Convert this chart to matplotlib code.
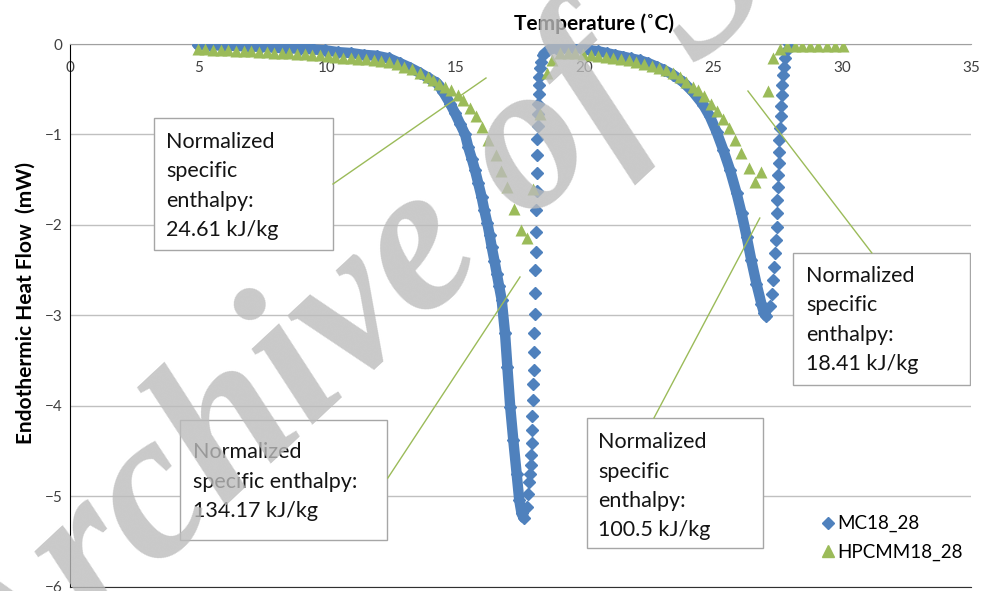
import matplotlib
matplotlib.use("Agg")
import matplotlib.pyplot as plt
from matplotlib.patches import Rectangle
from matplotlib.lines import Line2D

# ============================================================
# 1. DATA
# ============================================================

# MC18_28 - first melting peak (dense part)
mc_x_melt1 = [4.98, 5.45, 5.95, 6.45, 6.95, 7.45, 7.95, 8.45, 8.95, 9.45, 9.93, 10.43,
              10.93, 11.42, 11.92, 12.42, 12.82, 13.21, 13.61, 13.96, 14.26, 14.51, 14.78,
              14.96, 15.16, 15.36, 15.48, 15.62, 15.74, 15.87, 16.0, 16.1, 16.22, 16.31,
              16.39, 16.5, 16.59, 16.68, 16.78, 16.91, 17.0, 17.11, 17.23, 17.36, 17.46,
              17.55, 17.64]
mc_y_melt1 = [-0.01, -0.01, -0.02, -0.02, -0.03, -0.03, -0.04, -0.05, -0.05, -0.06, -0.07, -0.09,
              -0.10, -0.12, -0.13, -0.16, -0.21, -0.26, -0.32, -0.38, -0.43, -0.53, -0.66,
              -0.76, -0.88, -1.0, -1.14, -1.27, -1.39, -1.54, -1.69, -1.83, -1.98, -2.11,
              -2.24, -2.4, -2.54, -2.68, -2.83, -3.2, -3.57, -4.01, -4.38, -4.75, -5.04,
              -5.19, -5.24]

# MC18_28 - return after first peak (sparse points)
mc_x_ret1 = [17.77, 17.81, 17.85, 17.88, 17.9, 17.91, 17.94, 17.95, 17.97, 17.98, 18.01, 18.02,
             18.03, 18.04, 18.07, 18.07, 18.07, 18.1, 18.1, 18.11, 18.14, 18.14, 18.14, 18.16,
             18.18, 18.18, 18.2, 18.23, 18.23, 18.24, 18.27, 18.29]
mc_y_ret1 = [-5.12, -4.97, -4.84, -4.75, -4.65, -4.54, -4.41, -4.27, -4.11, -3.94, -3.76, -3.6,
             -3.4, -3.19, -2.99, -2.75, -2.5, -2.30, -2.08, -1.84, -1.63, -1.43, -1.23, -1.05,
             -0.91, -0.77, -0.66, -0.55, -0.45, -0.36, -0.27, -0.2]

# MC18_28 - second melting peak (dense part)
mc_x_melt2 = [18.39, 18.59, 18.88, 19.18, 19.55, 19.88, 20.21, 20.52, 20.85, 21.17, 21.5,
              21.81, 22.14, 22.46, 22.79, 23.1, 23.43, 23.82, 24.21, 24.6, 24.86, 25.12,
              25.38, 25.64, 25.9, 26.09, 26.29, 26.47, 26.67, 26.86, 26.96, 27.06]
mc_y_melt2 = [-0.12, -0.07, -0.04, -0.03, -0.04, -0.05, -0.07, -0.08, -0.10, -0.12, -0.14,
              -0.16, -0.18, -0.21, -0.25, -0.29, -0.34, -0.42, -0.53, -0.67, -0.80, -0.97,
              -1.17, -1.39, -1.65, -1.87, -2.13, -2.39, -2.65, -2.87, -2.97, -3.01]

# MC18_28 - return after second peak (sparse points)
mc_x_ret2 = [27.19, 27.29, 27.32, 27.36, 27.4, 27.42, 27.45, 27.46, 27.48, 27.49, 27.52, 27.53,
             27.54, 27.55, 27.58, 27.61, 27.63, 27.66, 27.68, 27.71, 27.74, 27.78, 27.84, 27.94]
mc_y_ret2 = [-2.9, -2.76, -2.61, -2.46, -2.31, -2.17, -2.02, -1.87, -1.72, -1.58, -1.45, -1.32,
             -1.19, -1.06, -0.93, -0.80, -0.69, -0.56, -0.45, -0.34, -0.25, -0.16, -0.07, 0.0]

# HPCMM18_28
hp_x = [4.98, 5.28, 5.57, 5.87, 6.17, 6.47, 6.76, 7.06, 7.36, 7.65, 7.95, 8.25, 8.54, 8.84,
        9.13, 9.43, 9.73, 10.03, 10.32, 10.62, 10.92, 11.22, 11.51, 11.81, 12.1, 12.4, 12.7,
        13.0, 13.3, 13.6, 13.9, 14.11, 14.36, 14.58, 14.83, 15.09, 15.28, 15.55, 15.8, 16.03,
        16.25, 16.54, 16.75, 16.99, 17.27, 17.53, 17.75, 18.01, 18.27, 18.52, 18.72, 19.05,
        19.34, 19.63, 19.93, 20.23, 20.52, 20.82, 21.12, 21.42, 21.71, 22.01, 22.31, 22.6,
        22.9, 23.15, 23.43, 23.7, 23.95, 24.19, 24.39, 24.65, 24.91, 25.13, 25.36, 25.62,
        25.85, 26.07, 26.37, 26.6, 26.85, 27.11, 27.3, 27.57, 27.84, 28.16, 28.45, 28.75,
        29.07, 29.39, 29.72, 30.04]
hp_y = [-0.06, -0.06, -0.07, -0.07, -0.07, -0.08, -0.08, -0.08, -0.09, -0.09, -0.10, -0.10,
        -0.10, -0.11, -0.11, -0.12, -0.12, -0.13, -0.14, -0.15, -0.16, -0.17, -0.17, -0.18,
        -0.19, -0.20, -0.22, -0.25, -0.28, -0.32, -0.36, -0.40, -0.44, -0.47, -0.51, -0.56,
        -0.62, -0.71, -0.80, -0.92, -1.06, -1.23, -1.40, -1.58, -1.82, -2.06, -2.14, -1.60,
        -0.77, -0.32, -0.18, -0.10, -0.10, -0.10, -0.11, -0.12, -0.13, -0.14, -0.16, -0.17,
        -0.18, -0.20, -0.22, -0.24, -0.27, -0.29, -0.32, -0.37, -0.42, -0.47, -0.51, -0.58,
        -0.66, -0.74, -0.83, -0.93, -1.06, -1.21, -1.37, -1.53, -1.42, -0.52, -0.16, -0.06,
        -0.02, -0.02, -0.02, -0.02, -0.02, -0.02, -0.02, -0.02]

x_ticks = [0, 5, 10, 15, 20, 25, 30, 35]
y_ticks = [0, -1, -2, -3, -4, -5, -6]

enthalpy_labels = [
    "Normalized\nspecific\nenthalpy:\n24.61 kJ/kg",
    "Normalized\nspecific enthalpy:\n134.17 kJ/kg",
    "Normalized\nspecific\nenthalpy:\n100.5 kJ/kg",
    "Normalized\nspecific\nenthalpy:\n18.41 kJ/kg",
]

BLUE = "#4f81bd"
GREEN = "#9bbb59"
FONT = ["Lato", "DejaVu Sans"]

# ============================================================
# 2. FIGURE
# ============================================================

W, H = 988, 591
fig = plt.figure(figsize=(W / 100, H / 100), dpi=100)
ax = fig.add_axes([69.5 / W, 4.3 / H, 901.5 / W, 542.7 / H])
ax.set_xlim(0, 35)
ax.set_ylim(-6, 0)

ax.set_yticks(y_ticks)
ax.set_xticks(x_ticks)
ax.grid(axis="y", color="#c0c0c0", lw=1)
ax.set_axisbelow(True)

ax.spines["right"].set_visible(False)
ax.spines["top"].set_color("#a0a0a0")
ax.spines["left"].set_color("black")
ax.spines["bottom"].set_color("#303030")

ax.xaxis.tick_top()
ax.tick_params(axis="x", length=0, pad=-22, labelsize=11, labelcolor="#404040")
ax.tick_params(axis="y", length=0, pad=5, labelsize=11, labelcolor="#404040")
for lab in ax.get_xticklabels() + ax.get_yticklabels():
    lab.set_fontfamily(FONT)

# dense melting curves: thick band + diamonds
for xs, ys in [(mc_x_melt1, mc_y_melt1), (mc_x_melt2, mc_y_melt2)]:
    ax.plot(xs, ys, color=BLUE, lw=7.5, solid_capstyle="round", solid_joinstyle="round",
            marker="D", ms=6, zorder=3)
for xs, ys in [(mc_x_ret1, mc_y_ret1), (mc_x_ret2, mc_y_ret2)]:
    ax.plot(xs, ys, ls="none", color=BLUE, marker="D", ms=6, zorder=3)

ax.plot(hp_x, hp_y, ls="none", color=GREEN, marker="^", ms=8, mec="none", zorder=4)

# ============================================================
# 3. ANNOTATIONS
# ============================================================

boxes = [(3.28, -2.278, 6.95, 1.46), (4.29, -5.484, 8.04, 1.327),
         (20.09, -5.572, 6.83, 1.437), (28.09, -3.77, 6.87, 1.46)]
text_pos = [(3.75, -1.57), (4.79, -4.84), (20.52, -4.89), (28.59, -3.05)]
leaders = [((10.23, -1.548), (16.17, -0.376)), ((12.36, -4.798), (17.49, -2.576)),
           ((22.69, -4.135), (26.8, -1.924)), ((26.34, -0.52), (31.15, -2.31))]

for (bx, by, bw, bh), (tx, ty), lbl in zip(boxes, text_pos, enthalpy_labels):
    ax.add_patch(Rectangle((bx, by), bw, bh, facecolor="white", edgecolor="#a6a6a6",
                           lw=1, zorder=5))
    ax.text(tx, ty, lbl, ha="left", va="center", fontsize=15.5, family=FONT,
            color="#141414", linespacing=1.58, zorder=6)

for p0, p1 in leaders:
    ax.plot([p0[0], p1[0]], [p0[1], p1[1]], color=GREEN, lw=1, zorder=6)

# legend
handles = [Line2D([], [], ls="none", marker="D", ms=6.5, color=BLUE, label="MC18_28"),
           Line2D([], [], ls="none", marker="^", ms=8.5, color=GREEN, label="HPCMM18_28")]
leg = ax.legend(handles=handles, loc="center left", bbox_to_anchor=(804 / W, 1 - 538 / H),
                bbox_transform=fig.transFigure, frameon=False, handlelength=0.8,
                handletextpad=0.05, labelspacing=0.6, borderpad=0.4,
                prop={"family": FONT, "size": 13.5})

# axis titles
fig.text(594 / W, 1 - 24 / H, "Temperature (˚C)", ha="center", va="center",
         fontsize=15, fontweight="bold", family=["Liberation Sans Narrow", "Lato", "DejaVu Sans"])
fig.text(26 / W, 1 - 303 / H, "Endothermic Heat Flow  (mW)", ha="center", va="center",
         rotation=90, fontsize=15, fontweight="bold", family=FONT)

# watermark
fig.text(440 / W, 1 - 245 / H, "Archive of SID", ha="center", va="center", rotation=43,
         fontsize=152, family="Liberation Serif", fontweight="bold", style="italic",
         color="#bcbcbc", alpha=0.8, zorder=10)

fig.savefig("out.png", dpi=100)
plt.close(fig)
